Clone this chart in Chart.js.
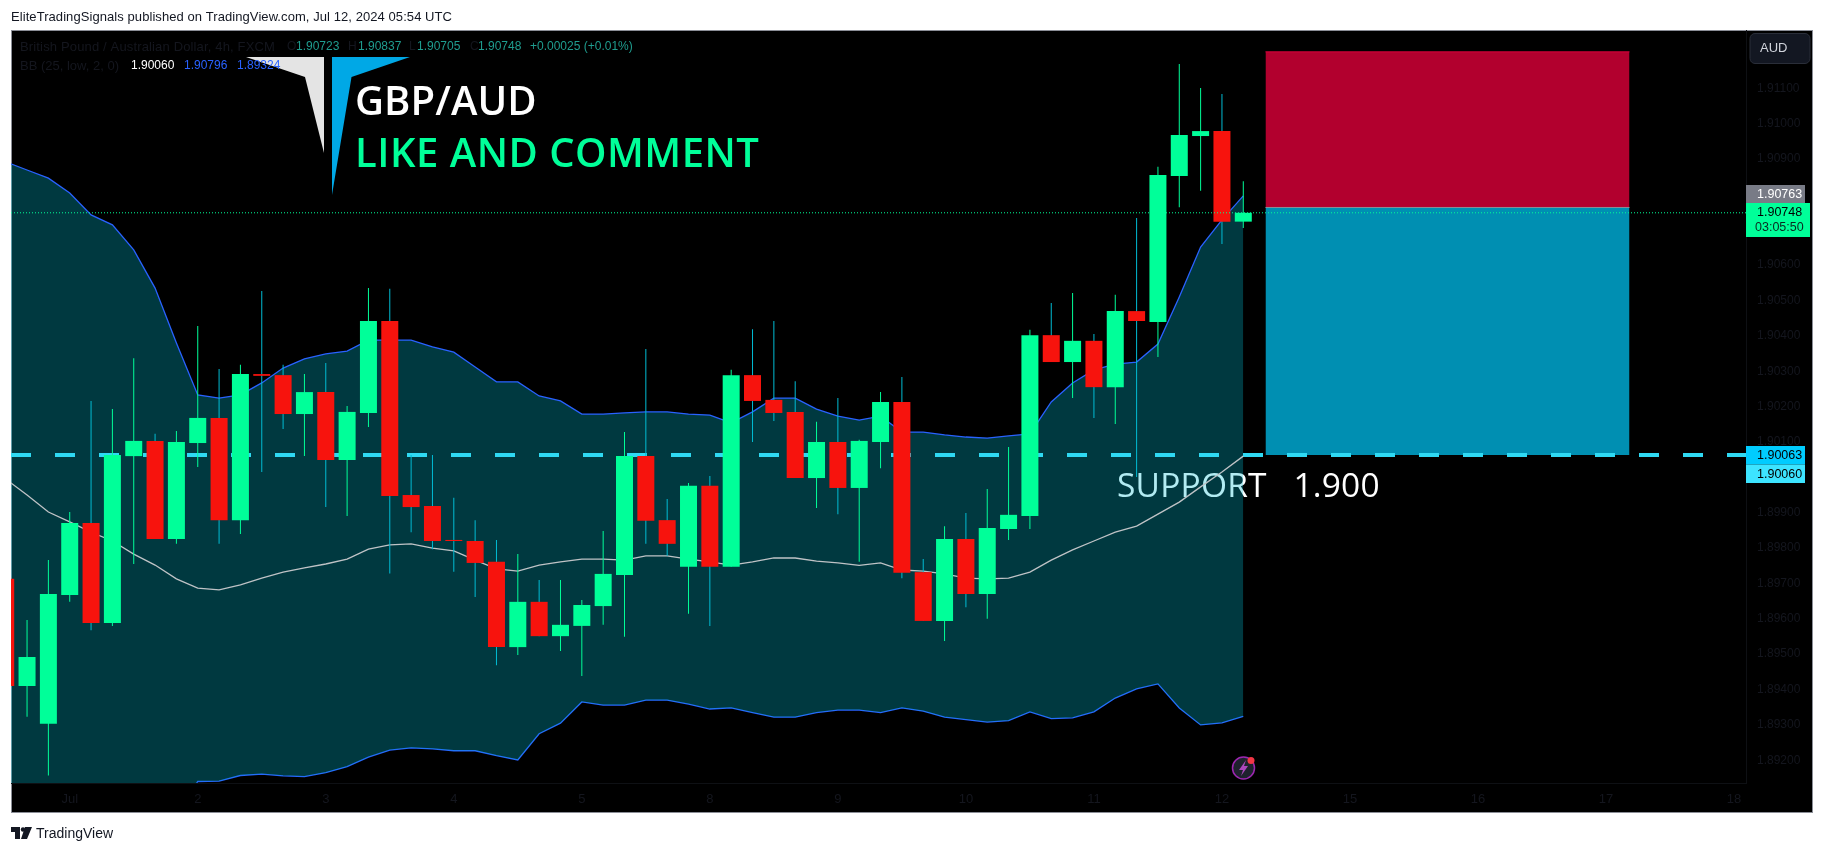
<!DOCTYPE html>
<html>
<head>
<meta charset="utf-8">
<title>GBP/AUD</title>
<script src="https://cdn.jsdelivr.net/npm/chart.js@4"></script>
<style>
  html, body { margin: 0; padding: 0; background: #fff; }
  canvas { display: block; }
</style>
</head>
<body>
<canvas id="chart" width="1825" height="853"></canvas>
<script>
const openPrices = [1.89713,1.89410,1.89303,1.89667,1.89871,1.89588,1.90060,1.90103,1.89826,1.90097,
  1.90168,1.89879,1.90292,1.90289,1.90179,1.90241,1.90049,1.90182,1.90442,1.89950,
  1.89919,1.89823,1.89820,1.89761,1.89520,1.89648,1.89551,1.89580,1.89636,1.89724,
  1.90060,1.89879,1.89747,1.89976,1.89747,1.90289,1.90219,1.90185,1.89998,1.90100,
  1.89970,1.90100,1.90213,1.89732,1.89594,1.89826,1.89670,1.89854,1.89891,1.90402,
  1.90326,1.90386,1.90255,1.90470,1.90439,1.90852,1.90965,1.90979,1.90723];
const highPrices = [1.89713,1.89597,1.89766,1.89902,1.90216,1.90193,1.90337,1.90123,1.90131,1.90428,
  1.90306,1.90318,1.90527,1.90318,1.90292,1.90323,1.90202,1.90535,1.90533,1.90063,
  1.90063,1.89942,1.89879,1.89823,1.89783,1.89710,1.89710,1.89653,1.89848,1.90128,
  1.90363,1.89939,1.89984,1.90004,1.90304,1.90419,1.90442,1.90272,1.90157,1.90224,
  1.90106,1.90241,1.90284,1.89769,1.89862,1.89899,1.89967,1.90086,1.90417,1.90493,
  1.90521,1.90405,1.90516,1.90733,1.90878,1.91169,1.91101,1.91084,1.90837];
const lowPrices = [1.89410,1.89323,1.89157,1.89648,1.89568,1.89580,1.89755,1.89826,1.89812,1.90029,
  1.89812,1.89840,1.90015,1.90137,1.90060,1.89916,1.89891,1.90142,1.89728,1.89845,
  1.89797,1.89733,1.89662,1.89469,1.89498,1.89551,1.89509,1.89438,1.89583,1.89549,
  1.89812,1.89778,1.89614,1.89580,1.89747,1.90100,1.90159,1.89998,1.89913,1.89896,
  1.89761,1.90026,1.89715,1.89594,1.89537,1.89633,1.89600,1.89823,1.89854,1.90326,
  1.90224,1.90168,1.90151,1.90001,1.90340,1.90764,1.90810,1.90660,1.90705];
const closePrices = [1.89410,1.89492,1.89670,1.89871,1.89588,1.90063,1.90103,1.89826,1.90100,1.90168,
  1.89879,1.90292,1.90287,1.90179,1.90241,1.90049,1.90185,1.90442,1.89947,1.89916,
  1.89820,1.89820,1.89758,1.89520,1.89648,1.89551,1.89583,1.89639,1.89727,1.90060,
  1.89877,1.89812,1.89976,1.89747,1.90289,1.90216,1.90182,1.89998,1.90100,1.89970,
  1.90103,1.90213,1.89730,1.89594,1.89826,1.89670,1.89857,1.89894,1.90402,1.90326,
  1.90386,1.90255,1.90470,1.90442,1.90855,1.90968,1.90979,1.90723,1.90748];
const bbUpper = [1.90892,1.90869,1.90846,1.90804,1.90742,1.90714,1.90643,1.90535,1.90380,1.90233,
  1.90224,1.90233,1.90267,1.90309,1.90335,1.90349,1.90357,1.90388,1.90388,1.90388,
  1.90369,1.90354,1.90312,1.90270,1.90270,1.90230,1.90216,1.90179,1.90179,1.90182,
  1.90185,1.90185,1.90179,1.90176,1.90154,1.90185,1.90224,1.90224,1.90193,1.90173,
  1.90162,1.90173,1.90128,1.90128,1.90120,1.90114,1.90111,1.90117,1.90123,1.90213,
  1.90267,1.90304,1.90320,1.90326,1.90377,1.90510,1.90651,1.90728,1.90796];
const bbBasis = [1.89995,1.89950,1.89902,1.89874,1.89845,1.89820,1.89783,1.89752,1.89713,1.89687,
  1.89682,1.89696,1.89715,1.89732,1.89744,1.89755,1.89769,1.89797,1.89809,1.89812,
  1.89800,1.89792,1.89766,1.89741,1.89735,1.89752,1.89761,1.89769,1.89769,1.89766,
  1.89778,1.89778,1.89769,1.89761,1.89752,1.89761,1.89772,1.89772,1.89763,1.89758,
  1.89751,1.89758,1.89738,1.89735,1.89727,1.89715,1.89713,1.89715,1.89732,1.89766,
  1.89795,1.89820,1.89845,1.89862,1.89896,1.89930,1.89973,1.90015,1.90060];
const bbLower = [1.89099,1.89031,1.88958,1.88944,1.88949,1.88927,1.88924,1.88969,1.89045,1.89140,
  1.89141,1.89157,1.89161,1.89156,1.89154,1.89165,1.89182,1.89209,1.89229,1.89235,
  1.89232,1.89227,1.89227,1.89213,1.89201,1.89275,1.89305,1.89365,1.89356,1.89356,
  1.89370,1.89370,1.89359,1.89345,1.89348,1.89335,1.89322,1.89322,1.89335,1.89342,
  1.89342,1.89335,1.89348,1.89339,1.89322,1.89315,1.89308,1.89312,1.89337,1.89318,
  1.89320,1.89337,1.89376,1.89402,1.89416,1.89348,1.89300,1.89306,1.89324];

const dateLabels = ['Jul','2','3','4','5','8','9','10','11','12','15','16','17','18'];
const dateBars = [3,9,15,21,27,33,39,45,51,57,63,69,75,81];
const priceTicks = [1.911,1.910,1.909,1.908,1.907,1.906,1.905,1.904,1.903,1.902,1.901,1.900,
  1.899,1.898,1.897,1.896,1.895,1.894,1.893,1.892];

const lastPrice = 1.90748;
const supportPrice = 1.90063;
const entryPrice = 1.90763;
const targetPrice = 1.91203;
const bbBasisLast = 1.90060;
const zoneBars = [59.04, 76.1];
const viewBars = [0.248, 81.56];

const RED = '#f7130d', GREEN = '#00ff99', CYAN = '#00bcd4', BLUE = '#2962ff';
const DIM = '#14161e', TEAL = '#1f9d8f';
const FONT = '"Liberation Sans"';
const TITLE_FONT = '"Open Sans"';

const bars = openPrices.map((_, i) => i);
const upDown = closePrices.map((c, i) => c >= openPrices[i]);

function lineOf(values) {
  return values.map((v, i) => ({ x: i, y: v }));
}
function hline(price, from, to) {
  return [{ x: from, y: price }, { x: to, y: price }];
}
function text(ctx, str, x, y, color, font, spacing) {
  ctx.fillStyle = color;
  ctx.font = font;
  ctx.letterSpacing = spacing || '0px';
  ctx.textAlign = 'left';
  ctx.textBaseline = 'middle';
  ctx.fillText(str, x, y);
  ctx.letterSpacing = '0px';
}
function poly(ctx, pts, color) {
  ctx.fillStyle = color;
  ctx.beginPath();
  pts.forEach((p, i) => i ? ctx.lineTo(p[0], p[1]) : ctx.moveTo(p[0], p[1]));
  ctx.closePath();
  ctx.fill();
}

// page frame, header, footer and the logo that sits in the pane
const framePlugin = {
  id: 'frame',
  beforeDraw(chart) {
    const ctx = chart.ctx;
    ctx.save();
    ctx.fillStyle = '#fff';
    ctx.fillRect(0, 0, chart.width, chart.height);
    ctx.fillStyle = '#000';
    ctx.fillRect(11, 30, 1802, 783);
    ctx.strokeStyle = '#8b8e97';
    ctx.lineWidth = 1;
    ctx.strokeRect(11.5, 30.5, 1801, 782);

    text(ctx, 'EliteTradingSignals published on TradingView.com, Jul 12, 2024 05:54 UTC', 11, 17, '#131722', '13px ' + FONT, '0.07px');
    text(ctx, 'TradingView', 36, 834, '#131722', '14px ' + FONT);
    poly(ctx, [[11,827],[20,827],[20,839],[15,839],[15,832],[11,832]], '#131722');
    poly(ctx, [[25,827],[32,827],[27,839],[21,839]], '#131722');
    ctx.fillStyle = '#131722';
    ctx.beginPath();
    ctx.arc(23, 829.5, 2.2, 0, Math.PI * 2);
    ctx.fill();
    ctx.restore();
  },
  beforeDatasetsDraw(chart) {
    const ctx = chart.ctx;
    ctx.save();
    poly(ctx, [[246,57],[324,57],[324,153],[305,77]], '#e4e4e4');
    poly(ctx, [[332,57],[410,57],[351.5,77],[332,195]], '#00a8e6');
    text(ctx, 'GBP/AUD', 355, 104, '#fff', '600 40px ' + TITLE_FONT, '0.1px');
    text(ctx, 'LIKE AND COMMENT', 355, 156, GREEN, '600 40px ' + TITLE_FONT, '0.5px');
    // the band fill goes over this one, it tints the part inside the band
    text(ctx, 'SUPPORT   1.900', 1117, 487, '#fff', '33.5px ' + TITLE_FONT, '0.2px');

    const f = '13px ' + FONT, n = '12px ' + FONT;
    text(ctx, 'British Pound / Australian Dollar, 4h, FXCM', 20, 47, DIM, f, '0.15px');
    text(ctx, 'O', 287, 47, DIM, n);
    text(ctx, openPrices[58].toFixed(5), 296, 47, TEAL, n);
    text(ctx, 'H', 348, 47, DIM, n);
    text(ctx, highPrices[58].toFixed(5), 358, 47, TEAL, n);
    text(ctx, 'L', 409, 47, DIM, n);
    text(ctx, lowPrices[58].toFixed(5), 417, 47, TEAL, n);
    text(ctx, 'C', 470, 47, DIM, n);
    text(ctx, closePrices[58].toFixed(5), 478, 47, TEAL, n);
    text(ctx, '+0.00025 (+0.01%)', 530, 47, TEAL, n);
    text(ctx, 'BB (25, low, 2, 0)', 20, 66, DIM, f);
    text(ctx, bbBasis[58].toFixed(5), 131, 66, '#fff', n);
    text(ctx, bbUpper[58].toFixed(5), 184, 66, BLUE, n);
    text(ctx, bbLower[58].toFixed(5), 237, 66, BLUE, n);
    ctx.restore();
  },
  afterDraw(chart) {
    const ctx = chart.ctx;
    const tagFont = '12.5px ' + FONT;
    ctx.save();

    function tag(label, bg, color, top, h, w) {
      ctx.fillStyle = bg;
      ctx.fillRect(1746, top, w, h);
      text(ctx, label, 1757, top + h / 2 + 0.5, color, tagFont);
    }
    tag(entryPrice.toFixed(5), '#787b86', '#fff', 185, 18, 59);
    ctx.fillStyle = GREEN;
    ctx.fillRect(1746, 203, 64, 34);
    text(ctx, lastPrice.toFixed(5), 1757, 213, '#000', tagFont);
    text(ctx, '03:05:50', 1755, 227.5, '#0a2a20', tagFont);
    tag(supportPrice.toFixed(5), '#00ccff', '#000', 446, 18.5, 59);
    tag(bbBasisLast.toFixed(5), '#3de4ff', '#000', 464.5, 18.5, 59);

    // currency button
    ctx.fillStyle = '#131722';
    ctx.strokeStyle = '#2a2e39';
    ctx.beginPath();
    ctx.roundRect(1750, 33.5, 60, 30, 5);
    ctx.fill();
    ctx.stroke();
    text(ctx, 'AUD', 1760, 48.5, '#d1d4dc', '13px ' + FONT);

    // lightning badge at the end of the series
    ctx.fillStyle = '#1e222d';
    ctx.strokeStyle = '#9c27b0';
    ctx.lineWidth = 1.5;
    ctx.beginPath();
    ctx.arc(1243.5, 768, 11, 0, Math.PI * 2);
    ctx.fill();
    ctx.stroke();
    poly(ctx, [[1246,760],[1239,770],[1243,770],[1241,776],[1248,766],[1244,766]], '#ab47bc');
    ctx.fillStyle = '#f23645';
    ctx.beginPath();
    ctx.arc(1251, 760.5, 3.5, 0, Math.PI * 2);
    ctx.fill();
    ctx.restore();
  }
};

new Chart(document.getElementById('chart'), {
  type: 'bar',
  plugins: [framePlugin],
  data: {
    datasets: [
      {
        type: 'line',
        order: 1,
        data: hline(lastPrice, viewBars[0], viewBars[1]),
        borderColor: GREEN,
        borderWidth: 1,
        borderDash: [1, 2],
        pointRadius: 0,
      },
      {
        order: 2,
        data: bars.map(i => ({ x: i, y: [openPrices[i], closePrices[i]] })),
        backgroundColor: upDown.map(up => up ? GREEN : RED),
        barThickness: 17,
        grouped: false,
        inflateAmount: 0,
      },
      {
        order: 3,
        data: bars.map(i => ({ x: i, y: [lowPrices[i], highPrices[i]] })),
        backgroundColor: upDown.map(up => up ? GREEN : CYAN),
        barThickness: 1,
        grouped: false,
        inflateAmount: 0,
      },
      {
        type: 'line',
        order: 4,
        data: lineOf(bbBasis),
        borderColor: '#bfc3c6',
        borderWidth: 1.3,
        pointRadius: 0,
        tension: 0,
      },
      {
        type: 'line',
        order: 5,
        data: hline(supportPrice, viewBars[0], viewBars[1]),
        borderColor: '#2fd9f3',
        borderWidth: 4,
        borderDash: [20, 24],
        pointRadius: 0,
      },
      {
        type: 'line',
        order: 6,
        data: lineOf(bbUpper),
        borderColor: BLUE,
        borderWidth: 1.3,
        pointRadius: 0,
        tension: 0,
        fill: '+1',
        backgroundColor: 'rgba(0,188,212,0.3)',
      },
      {
        type: 'line',
        order: 7,
        data: lineOf(bbLower),
        borderColor: BLUE,
        borderWidth: 1.3,
        pointRadius: 0,
        tension: 0,
      },
      {
        type: 'line',
        order: 8,
        data: hline(entryPrice, zoneBars[0], zoneBars[1]),
        borderColor: '#8a8f98',
        borderWidth: 1,
        pointRadius: 0,
        fill: { value: supportPrice },
        backgroundColor: '#008fb2',
      },
      {
        type: 'line',
        order: 9,
        data: hline(targetPrice, zoneBars[0], zoneBars[1]),
        borderColor: '#d8003a',
        borderWidth: 1,
        pointRadius: 0,
        fill: { value: entryPrice },
        backgroundColor: '#b2002e',
      },
    ],
  },
  options: {
    responsive: false,
    animation: false,
    layout: { padding: { left: 11, top: 30, right: 12, bottom: 40 } },
    plugins: { legend: { display: false }, tooltip: { enabled: false } },
    scales: {
      x: {
        type: 'linear',
        min: viewBars[0],
        max: viewBars[1],
        offset: false,
        bounds: 'data',
        grid: { display: false, tickLength: 0 },
        border: { color: '#0e1014' },
        ticks: {
          color: DIM,
          font: { family: 'Liberation Sans', size: 13 },
          padding: 9,
          maxRotation: 0,
          autoSkip: false,
          callback: v => dateLabels[dateBars.indexOf(v)],
        },
        afterBuildTicks(axis) { axis.ticks = dateBars.map(v => ({ value: v })); },
        afterFit(axis) { axis.height = 30; },
      },
      y: {
        position: 'right',
        min: 1.891358,
        max: 1.912648,
        bounds: 'data',
        grid: { display: false, tickLength: 0 },
        border: { color: '#0e1014' },
        ticks: {
          color: DIM,
          font: { family: 'Liberation Sans', size: 12 },
          padding: 11,
          autoSkip: false,
          callback: v => v.toFixed(5),
        },
        afterBuildTicks(axis) { axis.ticks = priceTicks.map(v => ({ value: v })); },
        afterFit(axis) { axis.width = 67; },
      },
    },
  },
});
</script>
</body>
</html>
